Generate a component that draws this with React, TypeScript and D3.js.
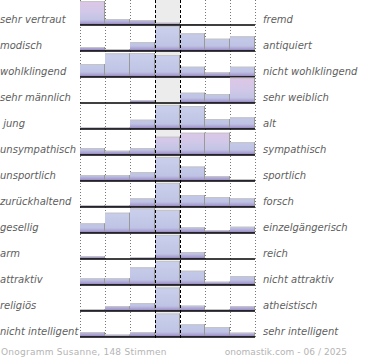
import React from "react";
import * as d3 from "d3";

// attribute pairs (left pole / right pole)
const leftLabels = [
  "sehr vertraut", "modisch", "wohlklingend", "sehr männlich", " jung",
  "unsympathisch", "unsportlich", "zurückhaltend", "gesellig", "arm",
  "attraktiv", "religiös", "nicht intelligent",
];
const rightLabels = [
  "fremd", "antiquiert", "nicht wohlklingend", "sehr weiblich", "alt",
  "sympathisch", "sportlich", "forsch", "einzelgängerisch", "reich",
  "nicht attraktiv", "atheistisch", "sehr intelligent",
];

// 7 answer steps per pair, relative share (row max ~25)
const shares = [
  [24, 6, 5, 2.3, 1, 0, 0],
  [4, 2, 9, 25, 17.7, 12.3, 14.7],
  [13, 23.7, 24, 22, 10.3, 4.7, 10.3],
  [0, 0, 3, 0, 10.3, 9, 25.3],
  [1.5, 1.5, 9.3, 24, 23, 10, 11.7],
  [7, 4.3, 7, 18.3, 22.3, 22.3, 12.8],
  [6, 6, 9, 24, 14.5, 5, 2],
  [2, 2, 8.7, 24, 12, 10, 8.7],
  [9.7, 20.3, 24.7, 23, 5.7, 3, 6.3],
  [2.7, 0, 1.5, 24, 7, 0, 0],
  [6.7, 6.7, 17.7, 24, 14.3, 3.3, 9],
  [2, 5, 8, 23.5, 5.4, 2, 5],
  [5, 2.4, 5, 23.5, 12.7, 10, 4.4],
];

// cells drawn with the pink tint [row, step]
const pinkCells = [[0, 0], [3, 6], [5, 3], [5, 4], [5, 5]];

const steps = d3.range(7);
const rows = d3.range(leftLabels.length);

const W = 370;
const H = 360;

export default function App() {
  const x = d3.scaleBand<number>().domain(steps).range([80, 255]);
  const row = d3.scaleBand<number>().domain(rows).range([-1, 337]);
  const h = d3.scaleLinear().domain([0, 25]).range([0, 25]);
  const bw = x.bandwidth();
  const rh = row.bandwidth();
  const isPink = (r: number, s: number) =>
    pinkCells.some(([a, b]) => a === r && b === s);
  const gridX = [0, 1, 2, 5, 6].map((s) => x(s)!).concat([255]);

  return (
    <svg
      width={W}
      height={H}
      style={{ position: "absolute", left: 0, top: 0 }}
      fontFamily="DejaVu Sans, sans-serif"
    >
      <defs>
        {rows.map((r) => (
          <React.Fragment key={r}>
            <linearGradient
              id={`blue${r}`}
              gradientUnits="userSpaceOnUse"
              x1={0}
              x2={0}
              y1={row(r)!}
              y2={row(r)! + rh}
            >
              <stop offset="0" stopColor="#cbd1ec" />
              <stop offset="0.8" stopColor="#bfc4e5" />
              <stop offset="0.9" stopColor="#ada5d2" />
              <stop offset="1" stopColor="#8d7dbb" />
            </linearGradient>
            <linearGradient
              id={`pink${r}`}
              gradientUnits="userSpaceOnUse"
              x1={0}
              x2={0}
              y1={row(r)!}
              y2={row(r)! + rh}
            >
              <stop offset="0" stopColor="#dfc6e6" />
              <stop offset="0.45" stopColor="#d3c8e8" />
              <stop offset="0.8" stopColor="#c2c4e5" />
              <stop offset="0.9" stopColor="#ada5d2" />
              <stop offset="1" stopColor="#8d7dbb" />
            </linearGradient>
          </React.Fragment>
        ))}
      </defs>

      <rect x={x(3)} y={0} width={bw} height={337} fill="#ececec" />

      {gridX.map((gx) => (
        <line
          key={gx}
          x1={gx + 0.5}
          x2={gx + 0.5}
          y1={0}
          y2={338}
          stroke="#777"
          strokeDasharray="1,2"
        />
      ))}

      {rows.map((r) => {
        const base = row(r)! + rh;
        return (
          <g key={r}>
            {steps.map((s) => {
              const v = shares[r][s];
              if (!v) return null;
              const top = base - h(v);
              const x0 = x(s)!;
              return (
                <g key={s}>
                  <rect
                    x={x0}
                    y={top}
                    width={bw}
                    height={h(v)}
                    fill={`url(#${isPink(r, s) ? "pink" : "blue"}${r})`}
                  />
                  <line x1={x0} x2={x0 + bw} y1={top + 0.5} y2={top + 0.5} stroke="#c4c4c4" />
                  <line x1={x0 + bw - 0.5} x2={x0 + bw - 0.5} y1={top} y2={base} stroke="#999" />
                </g>
              );
            })}
            <line x1={80} x2={255} y1={base} y2={base} stroke="#000" strokeWidth={1.5} />
            <text
              x={0}
              y={base - 2}
              fontSize={10}
              fontStyle="italic"
              fill="#606060"
              style={{ whiteSpace: "pre" }}
            >
              {leftLabels[r]}
            </text>
            <text x={263} y={base - 2} fontSize={10} fontStyle="italic" fill="#606060">
              {rightLabels[r]}
            </text>
          </g>
        );
      })}

      {[x(3)!, x(4)!].map((gx) => (
        <line
          key={gx}
          x1={gx + 0.5}
          x2={gx + 0.5}
          y1={0}
          y2={338}
          stroke="#000"
          strokeDasharray="3,2"
        />
      ))}

      <text x={1} y={355} fontSize={9} fill="#b4b4b4" letterSpacing={0.25}>
        Onogramm Susanne, 148 Stimmen
      </text>
      <text x={347} y={355} fontSize={9} fill="#b4b4b4" textAnchor="end" letterSpacing={0.05}>
        onomastik.com - 06 / 2025
      </text>
    </svg>
  );
}
